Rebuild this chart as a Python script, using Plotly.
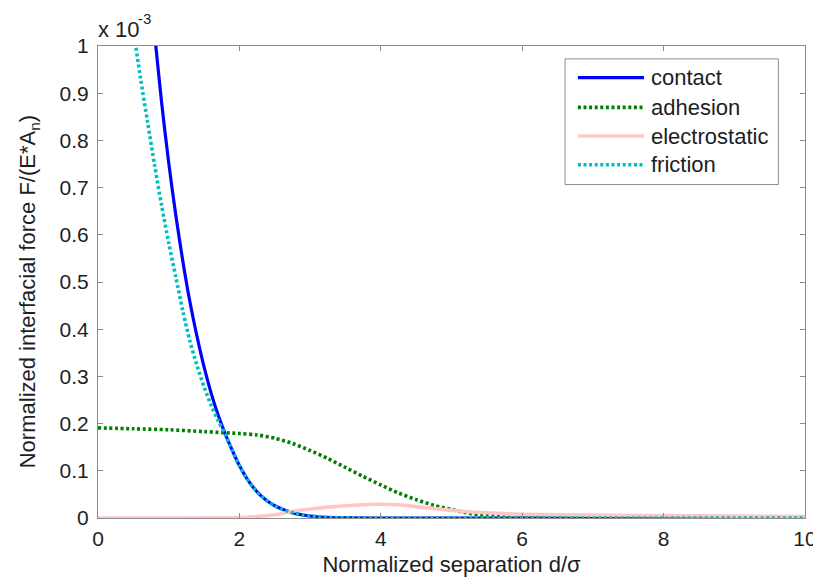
import plotly.graph_objects as go

# ---------------- data (values in units of 1e-3) ----------------
x_contact = [0.75, 0.8, 0.9, 1.0, 1.1, 1.2, 1.3, 1.4, 1.5, 1.6, 1.7, 1.8, 1.9, 2.0,
             2.1, 2.2, 2.3, 2.4, 2.5, 2.6, 2.7, 2.8, 2.9, 3.0, 3.1, 3.2, 3.4, 3.6, 4.0,
             5.0, 6.0, 7.0, 8.0, 9.0, 10.0]
y_contact = [1.1, 1.027, 0.88, 0.753, 0.642, 0.544, 0.458, 0.385, 0.32, 0.2645, 0.2176, 0.178, 0.143, 0.111,
             0.085, 0.064, 0.048, 0.0356, 0.0261, 0.019, 0.0135, 0.0093, 0.0063, 0.0042, 0.0027, 0.0016, 0.0005, 0.0001, 0.0,
             0.0, 0.0, 0.0, 0.0, 0.0, 0.0]

x_friction = [0.45, 0.5, 0.6, 0.7, 0.8, 0.9, 1.0, 1.1, 1.2, 1.3, 1.4, 1.5, 1.6, 1.7, 1.8, 1.9, 2.0,
              2.1, 2.2, 2.3, 2.4, 2.5, 2.6, 2.7, 2.8, 2.9, 3.0, 3.1, 3.2, 3.4, 3.6, 4.0,
              5.0, 6.0, 7.0, 8.0, 9.0, 10.0]
y_friction = [1.09, 1.035, 0.933, 0.84, 0.748, 0.662, 0.583, 0.511, 0.438, 0.375, 0.323, 0.278, 0.239, 0.206, 0.177, 0.143, 0.111,
              0.085, 0.064, 0.048, 0.0356, 0.0261, 0.019, 0.0135, 0.0093, 0.0063, 0.0042, 0.0027, 0.0016, 0.0005, 0.0001, 0.0,
              0.0, 0.0, 0.0, 0.0, 0.0, 0.0]

x_adhesion = [0.0, 0.5, 1.0, 1.5, 2.0, 2.25, 2.5, 2.75, 3.0, 3.25, 3.5, 3.75, 4.0, 4.25,
              4.5, 4.75, 5.0, 5.25, 5.5, 5.75, 6.0, 6.5, 7.0, 8.0, 9.0, 10.0]
y_adhesion = [0.191, 0.189, 0.187, 0.183, 0.179, 0.176, 0.169, 0.158, 0.143, 0.126, 0.107, 0.088, 0.07, 0.053,
              0.039, 0.027, 0.018, 0.01, 0.005, 0.002, 0.0008, 0.0002, 0.0, 0.0, 0.0, 0.0]

x_electro = [0.0, 1.0, 1.5, 2.0, 2.25, 2.5, 2.75, 3.0, 3.25, 3.5, 3.75, 4.0, 4.25, 4.5,
             4.75, 5.0, 5.5, 6.0, 7.0, 8.0, 9.0, 10.0]
y_electro = [0.0, 0.0, 0.0003, 0.0012, 0.003, 0.007, 0.014, 0.019, 0.023, 0.026, 0.028, 0.029, 0.028, 0.024,
             0.02, 0.016, 0.011, 0.008, 0.006, 0.005, 0.004, 0.003]

series_names = ["contact", "adhesion", "electrostatic", "friction"]
x_ticks = [0, 2, 4, 6, 8, 10]
y_ticks = [0, 0.1, 0.2, 0.3, 0.4, 0.5, 0.6, 0.7, 0.8, 0.9, 1]
y_tick_labels = ["0", "0.1", "0.2", "0.3", "0.4", "0.5", "0.6", "0.7", "0.8", "0.9", "1"]
x_title = "Normalized separation d/σ"
y_title = "Normalized interfacial force F/(E*A<sub>n</sub>)"

# ---------------- styles ----------------
FONT = "Liberation Sans, Arial, Helvetica, sans-serif"
FS_TICK = 21
FS = 22
TXT = "#1e1e1e"
AX = "#8c8c8c"
DOT = "3px,2.6px"
styles = {
    "contact": dict(color="#0000ff", width=3.2, dash="solid"),
    "adhesion": dict(color="#008000", width=3.6, dash=DOT),
    "electrostatic": dict(color="#ffc6c6", width=3.6, dash="solid"),
    "friction": dict(color="#00bfbf", width=3.6, dash=DOT),
}
data = {
    "contact": (x_contact, y_contact),
    "adhesion": (x_adhesion, y_adhesion),
    "electrostatic": (x_electro, y_electro),
    "friction": (x_friction, y_friction),
}

W, H = 821, 577
# plot area in pixels: left 90, right 806, top 38, bottom 515
L, T = 90, 38
R = W - 806
B = H - 515
PW, PH = W - L - R, H - T - B


def px2x(px):  # pixel -> paper x
    return (px - L) / PW


def px2y(py):  # pixel -> paper y
    return (T + PH - py) / PH


fig = go.Figure()
for name in series_names:
    xs, ys = data[name]
    fig.add_trace(go.Scatter(x=xs, y=ys, mode="lines", name=name,
                             line=dict(shape="spline", smoothing=0.8, **styles[name]),
                             showlegend=False, hoverinfo="skip"))

axis_common = dict(showline=True, linecolor=AX, linewidth=1, mirror="ticks",
                   ticks="inside", ticklen=5, tickcolor=AX, showgrid=False, zeroline=False,
                   tickfont=dict(family=FONT, size=FS_TICK, color=TXT))

fig.update_xaxes(range=[0, 10], tickvals=x_ticks, ticklabelstandoff=2,
                 title=dict(text=x_title, standoff=7,
                            font=dict(family=FONT, size=FS, color=TXT)),
                 **axis_common)
fig.update_yaxes(range=[0, 1], tickvals=y_ticks, ticktext=y_tick_labels, ticklabelstandoff=4,
                 **axis_common)

# manual legend (MATLAB style, long line samples)
shapes = [dict(type="rect", xref="paper", yref="paper",
               x0=px2x(563), x1=px2x(779), y0=px2y(178), y1=px2y(51),
               line=dict(color=AX, width=1), fillcolor="white", layer="above")]
annotations = []
rows = [70, 100, 129, 158]
for name, ry in zip(series_names, rows):
    st = styles[name]
    shapes.append(dict(type="line", xref="paper", yref="paper",
                       x0=px2x(576), x1=px2x(643), y0=px2y(ry), y1=px2y(ry),
                       line=dict(color=st["color"], width=st["width"], dash=st["dash"]),
                       layer="above"))
    annotations.append(dict(xref="paper", yref="paper", x=px2x(648), y=px2y(ry),
                            xanchor="left", yanchor="middle", showarrow=False, text=name,
                            font=dict(family=FONT, size=FS, color=TXT)))

# y axis title (placed like the MATLAB label)
annotations.append(dict(xref="paper", yref="paper", x=px2x(21), y=px2y(286),
                        xanchor="center", yanchor="middle", textangle=-90, showarrow=False,
                        text=y_title, font=dict(family=FONT, size=FS, color=TXT)))

# exponent label "x 10^-3"
annotations.append(dict(xref="paper", yref="paper", x=px2x(88), y=px2y(21),
                        xanchor="left", yanchor="middle", showarrow=False, text="x 10",
                        font=dict(family=FONT, size=FS, color=TXT)))
annotations.append(dict(xref="paper", yref="paper", x=px2x(128), y=px2y(10),
                        xanchor="left", yanchor="middle", showarrow=False, text="-3",
                        font=dict(family=FONT, size=15, color=TXT)))

fig.update_layout(width=W, height=H, margin=dict(l=L, r=R, t=T, b=B, pad=0),
                  plot_bgcolor="white", paper_bgcolor="white",
                  shapes=shapes, annotations=annotations, showlegend=False,
                  font=dict(family=FONT, size=FS, color=TXT))

fig.write_html("out.html")
